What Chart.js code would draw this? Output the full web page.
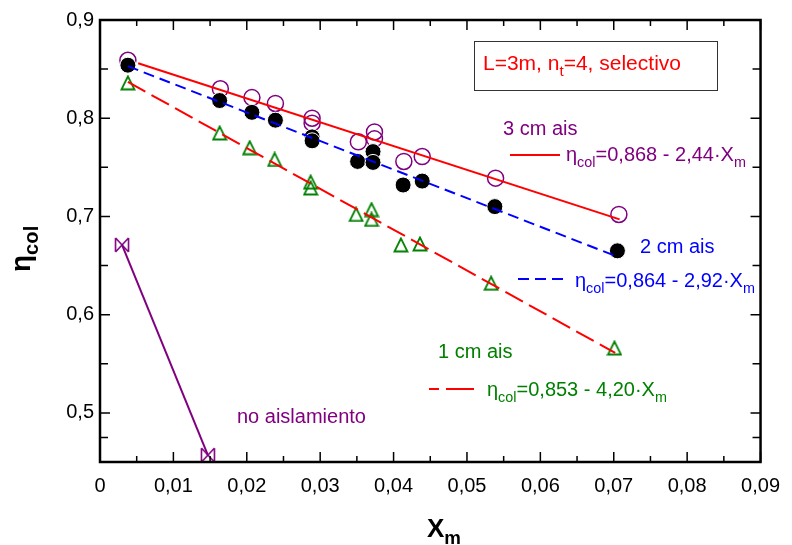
<!DOCTYPE html>
<html lang="es">
<head>
    <meta charset="UTF-8">
    <title>Rendimiento del colector</title>
    <script src="https://cdn.jsdelivr.net/npm/chart.js@4.4.1/dist/chart.umd.min.js"></script>
    <style>
        body {
            margin: 0;
            background: #fff;
        }
        .chart-wrapper {
            position: relative;
            width: 792px;
            height: 545px;
        }
    </style>
</head>
<body>
    <div class="chart-wrapper">
        <canvas id="chart"></canvas>
    </div>

    <script>
        // Ejes
        const xTickValues = [0, 0.01, 0.02, 0.03, 0.04, 0.05, 0.06, 0.07, 0.08, 0.09];
        const xTickLabels = ['0', '0,01', '0,02', '0,03', '0,04', '0,05', '0,06', '0,07', '0,08', '0,09'];
        const yTickValues = [0.5, 0.6, 0.7, 0.8, 0.9];
        const yTickLabels = ['0,5', '0,6', '0,7', '0,8', '0,9'];

        // 3 cm aislamiento (círculos abiertos)
        const ais3X = [0.0038, 0.0164, 0.0207, 0.0239, 0.0289, 0.0289, 0.0352, 0.0374, 0.0374, 0.0414, 0.0439, 0.0539, 0.0707];
        const ais3Y = [0.859, 0.830, 0.821, 0.815, 0.800, 0.795, 0.776, 0.786, 0.779, 0.756, 0.761, 0.739, 0.702];

        // 2 cm aislamiento (círculos negros)
        const ais2X = [0.0038, 0.0163, 0.0207, 0.0239, 0.0289, 0.0289, 0.0351, 0.0372, 0.0372, 0.0413, 0.0439, 0.0538, 0.0705];
        const ais2Y = [0.854, 0.818, 0.806, 0.798, 0.781, 0.777, 0.756, 0.766, 0.755, 0.732, 0.736, 0.710, 0.665];

        // 1 cm aislamiento (triángulos)
        const ais1X = [0.0038, 0.0163, 0.0204, 0.0238, 0.0287, 0.0287, 0.0349, 0.0370, 0.0370, 0.0410, 0.0436, 0.0533, 0.0701];
        const ais1Y = [0.836, 0.785, 0.770, 0.758, 0.735, 0.729, 0.702, 0.707, 0.697, 0.671, 0.672, 0.632, 0.566];

        // sin aislamiento
        const noAisX = [0.0030, 0.0147];
        const noAisY = [0.671, 0.457];

        // rectas de ajuste (extremos)
        const fit3X = [0.0052, 0.0708];
        const fit3Y = [0.856, 0.697];
        const fit2X = [0.0038, 0.0705];
        const fit2Y = [0.853, 0.659];
        const fit1X = [0.0038, 0.0702];
        const fit1Y = [0.837, 0.561];

        const PURPLE = '#800080';
        const GREEN = '#008000';
        const RED = '#ff0000';
        const BLUE = '#0000ff';
        const FONT = "'Liberation Sans', Arial, sans-serif";

        function pts(xs, ys) {
            return xs.map((x, i) => ({ x: x, y: ys[i] }));
        }

        // marcador tipo "⋈"
        const bowtie = document.createElement('canvas');
        bowtie.width = 16;
        bowtie.height = 16;
        (function () {
            const c = bowtie.getContext('2d');
            c.strokeStyle = PURPLE;
            c.lineWidth = 1.6;
            c.beginPath();
            c.moveTo(1.5, 1); c.lineTo(1.5, 15);
            c.moveTo(14.5, 1); c.lineTo(14.5, 15);
            c.moveTo(1.5, 1); c.lineTo(14.5, 15);
            c.moveTo(1.5, 15); c.lineTo(14.5, 1);
            c.stroke();
        })();

        // triángulo abierto, algo más alto que ancho
        const tri = document.createElement('canvas');
        tri.width = 16;
        tri.height = 16;
        (function () {
            const c = tri.getContext('2d');
            c.strokeStyle = GREEN;
            c.lineWidth = 1.8;
            c.beginPath();
            c.moveTo(8, 1.5);
            c.lineTo(1.5, 14.5);
            c.lineTo(14.5, 14.5);
            c.closePath();
            c.stroke();
        })();

        // texto con subíndices
        function richText(ctx, x, y, parts, size, color, bold) {
            ctx.fillStyle = color;
            ctx.textBaseline = 'alphabetic';
            ctx.textAlign = 'left';
            parts.forEach(p => {
                const s = p.sub ? size * 0.72 : size;
                ctx.font = (bold ? 'bold ' : '') + s + 'px ' + FONT;
                ctx.fillText(p.t, x, y + (p.sub ? size * 0.28 : 0));
                x += ctx.measureText(p.t).width;
            });
        }

        function legendLine(ctx, x1, x2, y, color, dash) {
            ctx.save();
            ctx.strokeStyle = color;
            ctx.lineWidth = 2;
            ctx.setLineDash(dash);
            ctx.beginPath();
            ctx.moveTo(x1, y);
            ctx.lineTo(x2, y);
            ctx.stroke();
            ctx.restore();
        }

        const framePlugin = {
            id: 'frame',
            afterDraw(chart) {
                const ctx = chart.ctx;
                const a = chart.chartArea;
                const xs = chart.scales.x;
                const ys = chart.scales.y;
                ctx.save();
                ctx.strokeStyle = '#000';
                ctx.lineWidth = 1.5;
                ctx.beginPath();
                // marcas del eje x (arriba y abajo)
                for (let i = 0; i < xTickValues.length; i++) {
                    const px = xs.getPixelForValue(xTickValues[i]);
                    ctx.moveTo(px, a.bottom); ctx.lineTo(px, a.bottom - 10);
                    ctx.moveTo(px, a.top); ctx.lineTo(px, a.top + 10);
                    if (i < xTickValues.length - 1) {
                        const pm = xs.getPixelForValue((xTickValues[i] + xTickValues[i + 1]) / 2);
                        ctx.moveTo(pm, a.bottom); ctx.lineTo(pm, a.bottom - 6);
                        ctx.moveTo(pm, a.top); ctx.lineTo(pm, a.top + 6);
                    }
                }
                // marcas del eje y (izquierda y derecha)
                const yAll = [0.45].concat(yTickValues);
                for (let i = 0; i < yAll.length; i++) {
                    const py = ys.getPixelForValue(yAll[i]);
                    ctx.moveTo(a.left, py); ctx.lineTo(a.left + 10, py);
                    ctx.moveTo(a.right, py); ctx.lineTo(a.right - 10, py);
                    if (i < yAll.length - 1) {
                        const pm = ys.getPixelForValue((yAll[i] + yAll[i + 1]) / 2);
                        ctx.moveTo(a.left, pm); ctx.lineTo(a.left + 8, pm);
                        ctx.moveTo(a.right, pm); ctx.lineTo(a.right - 8, pm);
                    }
                }
                ctx.stroke();
                ctx.lineWidth = 2.5;
                ctx.strokeRect(a.left, a.top, a.right - a.left, a.bottom - a.top);

                // recuadro
                ctx.lineWidth = 1;
                ctx.strokeStyle = '#333';
                ctx.strokeRect(474.5, 41.5, 243, 49);
                richText(ctx, 483, 70, [{ t: 'L=3m, n' }, { t: 't', sub: true }, { t: '=4, selectivo' }], 21, RED);

                // anotaciones
                richText(ctx, 503, 135, [{ t: '3 cm ais' }], 20, PURPLE);
                legendLine(ctx, 510, 560, 155, RED, []);
                richText(ctx, 566, 161, [{ t: 'η' }, { t: 'col', sub: true }, { t: '=0,868 - 2,44·X' }, { t: 'm', sub: true }], 20, PURPLE);

                richText(ctx, 640, 253, [{ t: '2 cm ais' }], 20, BLUE);
                legendLine(ctx, 518, 567, 279, BLUE, [11, 6]);
                richText(ctx, 575, 287, [{ t: 'η' }, { t: 'col', sub: true }, { t: '=0,864 - 2,92·X' }, { t: 'm', sub: true }], 20, BLUE);

                richText(ctx, 438, 358, [{ t: '1 cm ais' }], 20, GREEN);
                legendLine(ctx, 429, 475, 389, RED, [10, 7, 28, 7]);
                richText(ctx, 487, 396, [{ t: 'η' }, { t: 'col', sub: true }, { t: '=0,853 - 4,20·X' }, { t: 'm', sub: true }], 20, GREEN);

                richText(ctx, 237, 423, [{ t: 'no aislamiento' }], 20, PURPLE);

                // títulos de ejes
                richText(ctx, 427, 537, [{ t: 'X' }, { t: 'm', sub: true }], 26, '#000', true);
                ctx.translate(30, 272);
                ctx.rotate(-Math.PI / 2);
                richText(ctx, 0, 0, [{ t: 'η' }, { t: 'col', sub: true }], 28, '#000', true);
                ctx.restore();
            }
        };

        const chart = new Chart(document.getElementById('chart'), {
            type: 'scatter',
            data: {
                datasets: [
                    {
                        label: 'ajuste 3 cm',
                        data: pts(fit3X, fit3Y),
                        showLine: true,
                        borderColor: RED,
                        borderWidth: 2,
                        pointRadius: 0,
                        order: 1
                    },
                    {
                        label: 'ajuste 2 cm',
                        data: pts(fit2X, fit2Y),
                        showLine: true,
                        borderColor: BLUE,
                        borderWidth: 2,
                        borderDash: [11, 6],
                        pointRadius: 0,
                        order: 1
                    },
                    {
                        label: 'ajuste 1 cm',
                        data: pts(fit1X, fit1Y),
                        showLine: true,
                        borderColor: RED,
                        borderWidth: 2,
                        borderDash: [20, 7],
                        pointRadius: 0,
                        order: 1
                    },
                    {
                        label: 'no aislamiento',
                        data: pts(noAisX, noAisY),
                        showLine: true,
                        borderColor: PURPLE,
                        borderWidth: 2,
                        pointStyle: bowtie,
                        order: 2
                    },
                    {
                        label: '1 cm ais',
                        data: pts(ais1X, ais1Y),
                        pointStyle: tri,
                        order: 3
                    },
                    {
                        label: '2 cm ais',
                        data: pts(ais2X, ais2Y),
                        pointStyle: 'circle',
                        pointRadius: 8,
                        borderColor: '#fff',
                        backgroundColor: '#000',
                        borderWidth: 1,
                        order: 4
                    },
                    {
                        label: '3 cm ais',
                        data: pts(ais3X, ais3Y),
                        pointStyle: 'circle',
                        pointRadius: 8,
                        borderColor: PURPLE,
                        backgroundColor: 'rgba(255,255,255,0)',
                        borderWidth: 1.5,
                        order: 5
                    }
                ]
            },
            options: {
                responsive: true,
                maintainAspectRatio: false,
                animation: false,
                layout: {
                    padding: { left: 0, top: 20, right: 30, bottom: 0 }
                },
                plugins: {
                    legend: { display: false },
                    tooltip: { enabled: false }
                },
                scales: {
                    x: {
                        type: 'linear',
                        min: 0,
                        max: 0.09,
                        grid: { display: false, drawTicks: false },
                        border: { display: false },
                        afterBuildTicks: s => { s.ticks = xTickValues.map(v => ({ value: v })); },
                        afterFit: s => { s.height = 83; },
                        ticks: {
                            padding: 12,
                            color: '#000',
                            font: { family: FONT, size: 20 },
                            maxRotation: 0,
                            callback: (v, i) => xTickLabels[i]
                        }
                    },
                    y: {
                        type: 'linear',
                        min: 0.45,
                        max: 0.9,
                        grid: { display: false, drawTicks: false },
                        border: { display: false },
                        afterBuildTicks: s => { s.ticks = yTickValues.map(v => ({ value: v })); },
                        afterFit: s => { s.width = 100; },
                        ticks: {
                            padding: 6,
                            color: '#000',
                            font: { family: FONT, size: 20 },
                            callback: (v, i) => yTickLabels[i]
                        }
                    }
                }
            },
            plugins: [framePlugin]
        });
    </script>
</body>
</html>
